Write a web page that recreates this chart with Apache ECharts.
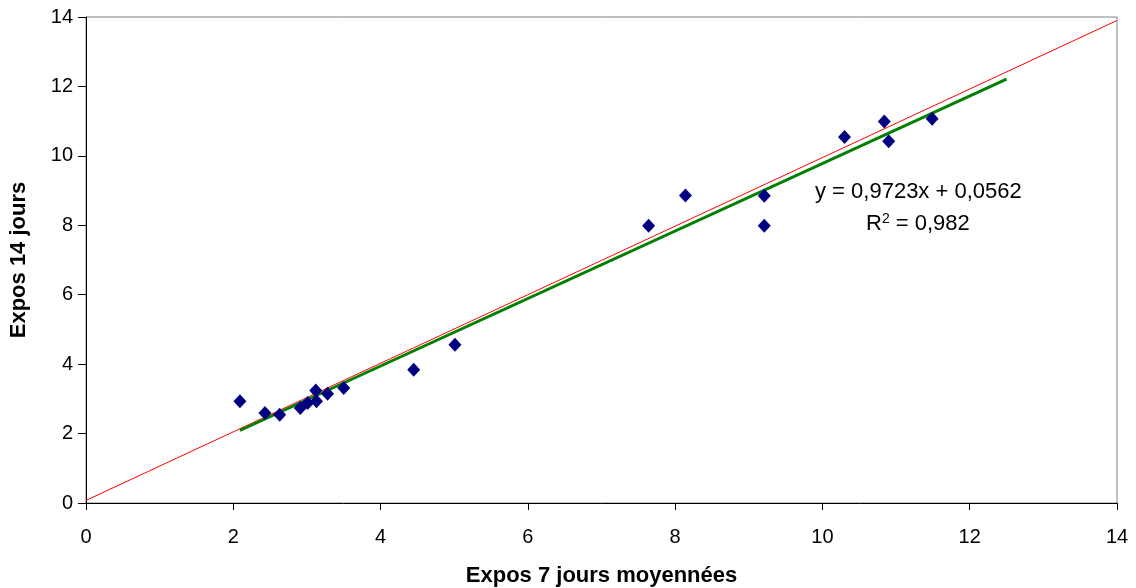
<!DOCTYPE html>
<html><head><meta charset="utf-8">
<script src="https://cdn.jsdelivr.net/npm/echarts@6/dist/echarts.min.js"></script>
<style>html,body{margin:0;padding:0;background:#fff}#c{width:1136px;height:588px}</style>
</head><body><div id="c"></div>
<script>
const xVals = [2.09, 2.43, 2.63, 2.91, 3.01, 3.12, 3.13, 3.28, 3.50, 4.45, 5.01, 7.64, 8.14, 9.21, 9.21, 10.30, 10.84, 10.90, 11.49];
const yVals = [2.93, 2.59, 2.54, 2.74, 2.88, 3.24, 2.93, 3.15, 3.31, 3.84, 4.56, 7.99, 8.86, 8.85, 7.99, 10.54, 10.99, 10.42, 11.07];
const refLine = [[0, 0.075], [14, 13.9]];
const slope = 0.9723, intercept = 0.0562;
const trendX = [2.09, 12.5];
const eqText = 'y = 0,9723x + 0,0562';
const r2Text = '0,982';

const pts = xVals.map((x, i) => [x, yVals[i]]);
const trend = trendX.map(x => [x, slope * x + intercept]);
const font = 'Liberation Sans, Arial, sans-serif';

const chart = echarts.init(document.getElementById('c'));
chart.setOption({
  animation: false,
  backgroundColor: '#fff',
  grid: { left: 86, right: 19, top: 17, bottom: 85, outerBoundsMode: 'none', containLabel: false,
          show: true, borderColor: '#808080', borderWidth: 1, backgroundColor: 'transparent' },
  xAxis: {
    type: 'value', min: 0, max: 14, interval: 2,
    name: 'Expos 7 jours moyennées', nameLocation: 'middle', nameGap: 62, nameMoveOverlap: false,
    nameTextStyle: { fontFamily: font, fontWeight: 'bold', fontSize: 22, color: '#000' },
    axisLine: { show: true, lineStyle: { color: '#000', width: 1 } },
    axisTick: { show: true, inside: false, length: 7, lineStyle: { color: '#000' } },
    axisLabel: { fontFamily: font, fontSize: 20, color: '#000', margin: 24 },
    splitLine: { show: false }
  },
  yAxis: {
    type: 'value', min: 0, max: 14, interval: 2,
    name: 'Expos 14 jours', nameLocation: 'middle', nameGap: 56, nameRotate: 90, nameMoveOverlap: false,
    nameTextStyle: { fontFamily: font, fontWeight: 'bold', fontSize: 22, color: '#000' },
    axisLine: { show: true, lineStyle: { color: '#000', width: 1 } },
    axisTick: { show: true, inside: false, length: 8, lineStyle: { color: '#000' } },
    axisLabel: { fontFamily: font, fontSize: 20, color: '#000', margin: 13 },
    splitLine: { show: false }
  },
  series: [
    { type: 'line', data: refLine, symbol: 'none', lineStyle: { color: '#ff0000', width: 1 }, z: 2, silent: true },
    { type: 'line', data: trend, symbol: 'none', lineStyle: { color: '#008000', width: 3 }, z: 3, silent: true },
    { type: 'scatter', data: pts, symbol: 'diamond', symbolSize: [13, 14],
      itemStyle: { color: '#000080', opacity: 1 }, z: 4 }
  ],
  graphic: [
    { type: 'text', left: 815, top: 181, z: 10, style: { text: eqText, fontFamily: font, fontSize: 22, fill: '#000' } },
    { type: 'text', left: 866, top: 212, z: 10, style: {
      text: 'R{sup|2} = ' + r2Text,
      rich: { sup: { fontSize: 14, verticalAlign: 'top', padding: [0, 0, 10, 0], fontFamily: font, fill: '#000' } },
      fontFamily: font, fontSize: 22, fill: '#000' } }
  ]
});
</script></body></html>
